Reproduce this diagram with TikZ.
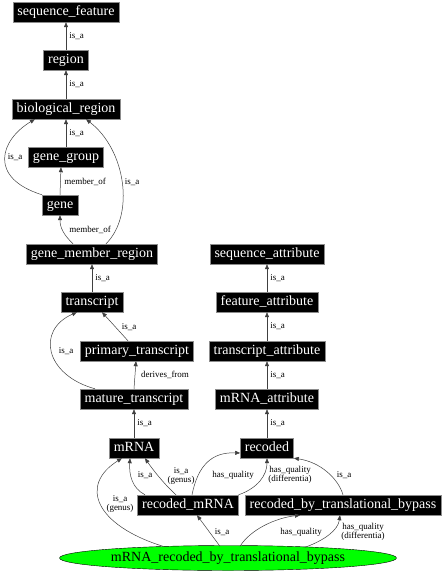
\documentclass[tikz,border=0pt]{standalone}
\usepackage{fontspec}
\setmainfont{Liberation Serif}
\newfontfamily\graphfont{Liberation Serif}
\usetikzlibrary{arrows.meta,shapes.geometric}

\begin{document}
\begin{tikzpicture}[x=1pt,y=-1pt,>={Triangle[length=5pt,width=4pt]},
  term/.style={fill=black,draw=black!45,text=white,font=\graphfont\fontsize{14}{16}\selectfont,
    inner xsep=4.5pt,inner ysep=3.5pt,text height=10pt,text depth=3pt},
  focus/.style={ellipse,fill=green,draw=black,minimum width=337pt,minimum height=25pt,
    inner sep=0pt,font=\graphfont\fontsize{14}{16}\selectfont},
  rel/.style={->,draw=black!75,line width=0.5pt},
  lbl/.style={font=\graphfont\fontsize{9}{8.5}\selectfont,inner sep=1pt,align=center}]
  \useasboundingbox (0,0) rectangle (445,576);
  % terms
  \node[term] (seqfeat) at (66,12) {sequence\_feature};
  \node[term] (region) at (66,60) {region};
  \node[term] (bioreg) at (66,109) {biological\_region};
  \node[term] (genegrp) at (66,157) {gene\_group};
  \node[term] (gene) at (60,205) {gene};
  \node[term] (gmr) at (92,254) {gene\_member\_region};
  \node[term] (transcript) at (92,302) {transcript};
  \node[term] (primary) at (137,351) {primary\_transcript};
  \node[term] (mature) at (134,399) {mature\_transcript};
  \node[term] (mrna) at (134,448) {mRNA};
  \node[term] (recmrna) at (188,505) {recoded\_mRNA};
  \node[term] (seqattr) at (267,254) {sequence\_attribute};
  \node[term] (featattr) at (267,302) {feature\_attribute};
  \node[term] (trattr) at (267,351) {transcript\_attribute};
  \node[term] (mrnaattr) at (267,399) {mRNA\_attribute};
  \node[term] (recoded) at (267,448) {recoded};
  \node[term] (rtb) at (343,505) {recoded\_by\_translational\_bypass};
  \node[focus] (focus) at (228,558) {mRNA\_recoded\_by\_translational\_bypass};
  % straight relations
  \draw[rel] (region) -- (seqfeat) node[lbl,midway,right=2pt]{is\_a};
  \draw[rel] (bioreg) -- (region) node[lbl,midway,right=2pt]{is\_a};
  \draw[rel] (genegrp) -- (bioreg) node[lbl,midway,right=2pt]{is\_a};
  \draw[rel] (gene.north) -- ([xshift=-5pt]genegrp.south);
  \draw[rel] (transcript) -- (gmr) node[lbl,midway,right=2pt]{is\_a};
  \draw[rel] ([xshift=-9pt]primary.north) -- ([xshift=10pt]transcript.south);
  \draw[rel] (mature.north) -- ([xshift=-1pt]primary.south);
  \draw[rel] (mrna) -- (mature) node[lbl,midway,right=2pt]{is\_a};
  \draw[rel] (featattr) -- (seqattr) node[lbl,midway,right=2pt]{is\_a};
  \draw[rel] (trattr) -- (featattr) node[lbl,midway,right=2pt]{is\_a};
  \draw[rel] (mrnaattr) -- (trattr) node[lbl,midway,right=2pt]{is\_a};
  \draw[rel] (recoded) -- (mrnaattr) node[lbl,midway,right=2pt]{is\_a};
  \draw[rel] ([xshift=-12pt]recmrna.north) .. controls (165,485) and (153,470) .. ([xshift=11pt]mrna.south);
  \draw[rel] ([xshift=-8pt,yshift=-1pt]focus.north) -- ([xshift=9pt]recmrna.south);
  % curved relations
  \draw[rel] (gene.north west) .. controls (-12,178) and (0,140) .. ([xshift=23pt]bioreg.south west);
  \draw[rel] ([xshift=-19pt]gmr.north) .. controls (64,235) and (60,228) .. (gene.south);
  \draw[rel] ([xshift=14pt]gmr.north) .. controls (135,215) and (126,150) .. ([xshift=20pt]bioreg.south);
  \draw[rel] ([xshift=-39pt]mature.north) .. controls (45,375) and (36,330) .. ([xshift=-15pt]transcript.south);
  \draw[rel] ([xshift=-43pt]recmrna.north) .. controls (132,488) and (129,475) .. ([xshift=-4pt]mrna.south);
  \draw[rel] ([xshift=-65pt,yshift=-1pt]focus.north) .. controls (95,525) and (79,485) .. ([xshift=-12pt]mrna.south);
  \draw[rel] ([xshift=4pt]recmrna.north) .. controls (198,465) and (212,452) .. ([yshift=-5pt]recoded.west);
  \draw[rel] (recmrna.north east) .. controls (258,488) and (267,475) .. (recoded.south);
  \draw[rel] (rtb.north) .. controls (338,478) and (320,462) .. (recoded.south east);
  \draw[rel] ([xshift=12pt,yshift=-1pt]focus.north) .. controls (250,530) and (275,518) .. ([xshift=-43pt]rtb.south);
  \draw[rel] ([xshift=77pt,yshift=-2pt]focus.north) .. controls (325,540) and (338,530) .. ([xshift=-3pt]rtb.south);
  % relation labels
  \node[lbl] (l-gene-bio) at (15,157) {is\_a};
  \node[lbl] (l-gene-grp) at (85,182) {member\_of};
  \node[lbl] (l-gmr-gene) at (90,230) {member\_of};
  \node[lbl] (l-gmr-bio) at (132,182) {is\_a};
  \node[lbl] (l-prim-tr) at (129,327) {is\_a};
  \node[lbl] (l-mat-tr) at (66,351) {is\_a};
  \node[lbl] (l-mat-prim) at (165,375) {derives\_from};
  \node[lbl] (l-rec-mrna) at (145,475) {is\_a};
  \node[lbl] (l-rec-genus) at (181,476) {is\_a\\(genus)};
  \node[lbl] (l-foc-genus) at (120,504) {is\_a\\(genus)};
  \node[lbl] (l-foc-rec) at (222,532) {is\_a};
  \node[lbl] (l-foc-hq) at (301,532) {has\_quality};
  \node[lbl] (l-foc-diff) at (363,532) {has\_quality\\(differentia)};
  \node[lbl] (l-rec-hq) at (233,475) {has\_quality};
  \node[lbl] (l-rec-diff) at (290,475) {has\_quality\\(differentia)};
  \node[lbl] (l-rtb-rec) at (344,475) {is\_a};
\end{tikzpicture}
\end{document}
